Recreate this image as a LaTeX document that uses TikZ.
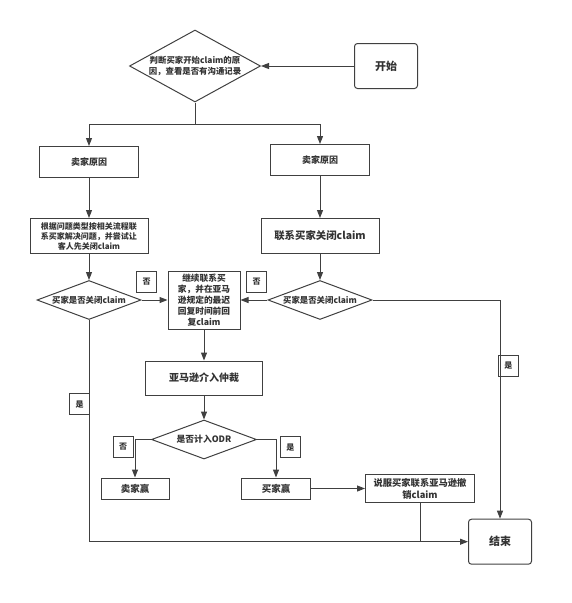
\documentclass[tikz,border=0pt]{standalone}
\usepackage{fontspec}
\setmainfont{Noto Sans CJK SC}
\usepackage{xcolor}
\usetikzlibrary{positioning}
\usetikzlibrary{shapes.geometric}
\usetikzlibrary{arrows.meta}

\definecolor{linegray}{HTML}{404040}
\definecolor{textgray}{HTML}{333333}

\begin{document}
\begin{tikzpicture}[x=1pt,y=-1pt,
        box/.style={draw=linegray,line width=1pt,text=textgray,inner sep=1pt,align=center},
        terminal/.style={box,rounded corners=3pt,minimum width=63pt,minimum height=45pt,
            font=\bfseries\fontsize{11}{13}\selectfont},
        decision/.style={box,diamond,inner sep=0pt},
        answer/.style={draw=linegray,line width=0.8pt,text=textgray,inner sep=0pt,
            minimum width=20pt,minimum height=21pt,font=\bfseries\fontsize{8}{9}\selectfont},
        flow/.style={draw=linegray,line width=1pt,-{Triangle[length=8pt,width=6pt]}},
        plain/.style={draw=linegray,line width=1pt}]
      \useasboundingbox (0,0) rectangle (571,603);

      \node[decision,inner sep=-2pt,minimum width=131pt,minimum height=72pt,aspect=1.8,
            font=\bfseries\fontsize{8.4}{11.7}\selectfont]  (judge)  at (195,66)
            {判断买家开始claim的原\\因，查看是否有沟通记录};
      \node[terminal]  (start)  at (386,66) {开始};
      \node[box,minimum width=99pt,minimum height=31pt,font=\bfseries\fontsize{9}{11}\selectfont]
            (reasonL)  at (89,162) {卖家原因};
      \node[box,minimum width=99pt,minimum height=31pt,font=\bfseries\fontsize{9}{11}\selectfont]
            (reasonR)  at (320,160) {卖家原因};
      \node[box,minimum width=118pt,minimum height=35pt,font=\bfseries\fontsize{8}{10}\selectfont]
            (solveL)  at (89,236) {根据问题类型按相关流程联\\系买家解决问题，并尝试让\\客人先关闭claim};
      \node[box,minimum width=118pt,minimum height=35pt,font=\bfseries\fontsize{10.4}{12}\selectfont]
            (contactR)  at (320,236) {联系买家关闭claim};
      \node[decision,minimum width=104pt,minimum height=39pt,aspect=2.6,
            font=\bfseries\fontsize{8.4}{10}\selectfont]  (askL)  at (89,300) {买家是否关闭claim};
      \node[decision,minimum width=104pt,minimum height=39pt,aspect=2.6,
            font=\bfseries\fontsize{8.4}{10}\selectfont]  (askR)  at (320,300) {买家是否关闭claim};
      \node[box,minimum width=72pt,minimum height=58pt,font=\bfseries\fontsize{8.7}{11}\selectfont]
            (follow)  at (204,300) {继续联系买\\家，并在亚马\\逊规定的最迟\\回复时间前回\\复claim};
      \node[box,minimum width=117pt,minimum height=34pt,font=\bfseries\fontsize{10}{12}\selectfont]
            (arbit)  at (204,378) {亚马逊介入仲裁};
      \node[decision,minimum width=105pt,minimum height=39pt,aspect=2.7,
            font=\bfseries\fontsize{8.8}{10}\selectfont]  (odr)  at (204,439.5) {是否计入ODR};
      \node[box,minimum width=68pt,minimum height=21pt,font=\bfseries\fontsize{9.5}{11}\selectfont]
            (sellerwin)  at (135,488.5) {卖家赢};
      \node[box,minimum width=69pt,minimum height=21pt,font=\bfseries\fontsize{9.5}{11}\selectfont]
            (buyerwin)  at (276,488.5) {买家赢};
      \node[box,minimum width=109pt,minimum height=28pt,font=\bfseries\fontsize{9.3}{12}\selectfont]
            (persuade)  at (420,488.5) {说服买家联系亚马逊撤\\销claim};
      \node[terminal]  (endbox)  at (500,541.7) {结束};
      \coordinate (fork) at (195,124);

      \draw [flow] (start) -- (judge);
      \draw [plain] (judge) -- (fork);
      \draw [flow] (fork) -| (reasonL);
      \draw [flow] (fork) -| (reasonR);
      \draw [flow] (reasonL) -- (solveL);
      \draw [flow] (reasonR) -- (contactR);
      \draw [flow] (solveL) -- (askL);
      \draw [flow] (contactR) -- (askR);
      \draw [flow] (askL) -- node [answer,pos=0.2,above=7pt] {否} (follow);
      \draw [flow] (askR) -- node [answer,pos=0.4,above=7pt] {否} (follow);
      \draw [flow] (askR) -| node [answer,pos=0.65,right=-2pt] {是} (endbox);
      \draw [flow] (askL) |- node [answer,pos=0.19,left=-1pt] {是} (endbox);
      \draw [flow] (follow) -- (arbit);
      \draw [flow] (arbit) -- (odr);
      \draw [flow] (odr) -| node [answer,pos=0.6,left=1.5pt] {否} (sellerwin);
      \draw [flow] (odr) -| node [answer,pos=0.6,right=4pt] {是} (buyerwin);
      \draw [flow] (buyerwin) -- (persuade);
      \draw [plain] (persuade) -- (persuade |- endbox.west);
\end{tikzpicture}
\end{document}
